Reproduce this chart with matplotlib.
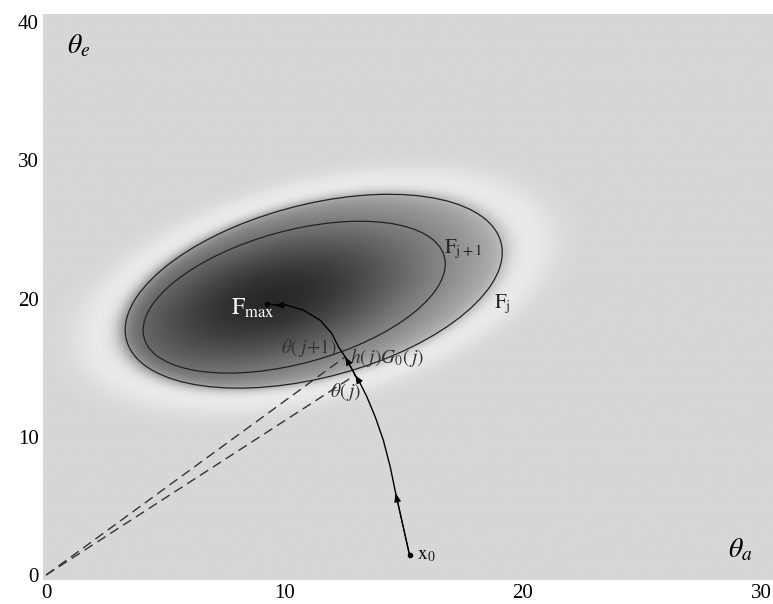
import numpy as np
import matplotlib
matplotlib.use("Agg")
import matplotlib.pyplot as plt
from matplotlib.patches import Ellipse

plt.rcParams["mathtext.fontset"] = "stix"
plt.rcParams["font.family"] = ["Liberation Serif", "DejaVu Serif"]

# Level sets F_j (outer) and F_{j+1} (inner): centre, full width, full height, angle (deg)
level_names = ["F_j", "F_j+1"]
level_center_x = [11.23, 10.41]
level_center_y = [20.54, 20.11]
level_width = [17.78, 14.31]
level_height = [11.44, 8.76]
level_angle = [36.6, 35.9]

# Search trajectory from x0 to F_max
path_x = [15.25, 14.67, 14.44, 14.15, 13.81, 13.46, 13.18, 12.97, 12.55,
          12.27, 11.99, 11.50, 10.80, 10.10, 9.61, 9.26]
path_y = [1.45, 5.91, 7.83, 9.76, 11.45, 12.90, 13.87, 14.47, 15.79,
          16.51, 17.48, 18.44, 19.17, 19.53, 19.53, 19.65]
arrow_idx = [1, 7, 8, 14]
theta_j_idx = 7
theta_j1_idx = 8

x_ticks = [0, 10, 20, 30]
y_ticks = [0, 10, 20, 30, 40]


def ellipse_radius(X, Y, k):
    a = level_width[k] / 2
    b = level_height[k] / 2
    t = np.deg2rad(level_angle[k])
    dx = X - level_center_x[k]
    dy = Y - level_center_y[k]
    u = dx * np.cos(t) + dy * np.sin(t)
    v = -dx * np.sin(t) + dy * np.cos(t)
    return np.sqrt((u / a) ** 2 + (v / b) ** 2)


fig = plt.figure(figsize=(7.73, 6.04), dpi=100)
ax = fig.add_axes([0.0556, 0.0397, 0.9444, 0.9371])
xlim = (-0.13, 30.5)
ylim = (-0.36, 40.6)

# Shaded objective surface
gx = np.linspace(*xlim, 600)
gy = np.linspace(*ylim, 600)
X, Y = np.meshgrid(gx, gy)
r_out = ellipse_radius(X, Y, 0)
r_in = ellipse_radius(X + 1.0, Y + 0.2, 1)
dark = 0.68 * np.exp(-0.6 * r_in ** 2) / (1 + np.exp((r_out - 1.03) / 0.025))
halo = 0.075 * np.exp(-((r_out - 1.14) / 0.16) ** 2)
field = 0.84 + halo - dark
ax.imshow(field, extent=(*xlim, *ylim), origin="lower", cmap="gray",
          vmin=0, vmax=1, interpolation="bilinear", aspect="auto", zorder=0)

for k in range(len(level_names)):
    ax.add_patch(Ellipse((level_center_x[k], level_center_y[k]), level_width[k],
                         level_height[k], angle=level_angle[k], fill=False,
                         edgecolor="#222222", lw=0.9, zorder=2))

# Rays from the origin to the two iterates
for idx in (theta_j_idx, theta_j1_idx):
    ax.plot([0, path_x[idx]], [0, path_y[idx]], color="#333333", lw=1.0,
            dashes=(7, 4), zorder=3)

ax.plot(path_x, path_y, color="black", lw=1.0, zorder=4)
for i in arrow_idx:
    ax.annotate("", xy=(path_x[i], path_y[i]),
                xytext=(path_x[i - 1], path_y[i - 1]),
                arrowprops=dict(arrowstyle="-|>,head_length=0.5,head_width=0.2",
                                color="black", lw=0.8, shrinkA=0, shrinkB=0),
                zorder=5)
ax.plot([path_x[0], path_x[-1]], [path_y[0], path_y[-1]], "o", color="black",
        ms=3, zorder=5)

ax.text(0.88, 38.3, r"$\theta_e$", fontsize=20, ha="left", va="center")
ax.text(28.6, 1.8, r"$\theta_a$", fontsize=20, ha="left", va="center")
ax.text(7.75, 19.3, r"$\mathrm{F}_{\mathrm{max}}$", fontsize=17, color="white",
        ha="left", va="center")
ax.text(16.7, 23.6, r"$\mathrm{F}_{\mathrm{j+1}}$", fontsize=15, color="#222222",
        ha="left", va="center")
ax.text(18.8, 19.6, r"$\mathrm{F}_{\mathrm{j}}$", fontsize=15, color="#222222",
        ha="left", va="center")
ax.text(9.85, 16.4, r"$\theta(\;j{+}1)$", fontsize=14, color="#333333",
        ha="left", va="center")
ax.text(12.75, 15.75, r"$h(\,j)G_0(\,j)$", fontsize=14, color="#333333",
        ha="left", va="center")
ax.text(11.9, 13.25, r"$\theta(\,j)$", fontsize=14, color="#333333",
        ha="left", va="center")
ax.text(15.55, 1.4, r"$\mathrm{x}_0$", fontsize=14, color="#111111",
        ha="left", va="center")

ax.set_xlim(*xlim)
ax.set_ylim(*ylim)
ax.set_xticks(x_ticks)
ax.set_yticks(y_ticks)
ax.tick_params(length=0, labelsize=15, pad=3)
for s in ax.spines.values():
    s.set_visible(False)

fig.savefig("out.png", dpi=100)
